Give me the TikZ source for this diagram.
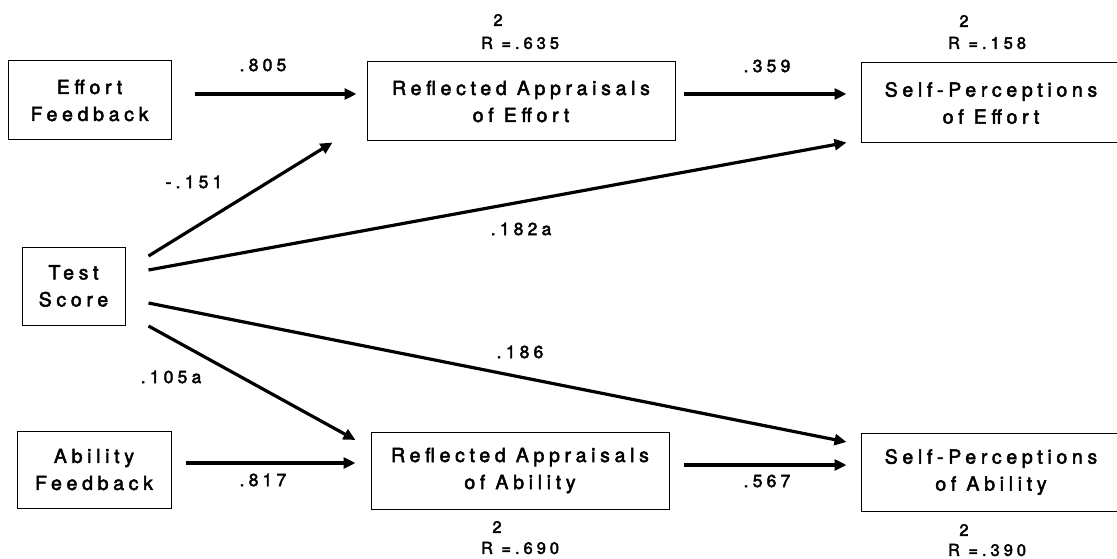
\documentclass[tikz,border=0pt]{standalone}
\usepackage{fontspec}
\setmainfont{TeX Gyre Heros}[LetterSpace=24,FakeBold=2.5]
\usetikzlibrary{arrows.meta,calc}

\tikzset{
  box/.style={draw, line width=1pt, inner sep=0pt, align=center,
    font=\fontsize{19.5}{27}\selectfont},
  arr/.style={line width=3.2pt, -{Triangle[length=12pt,width=11pt]}},
  coef/.style={inner sep=0pt, font=\fontsize{17.5}{18}\selectfont},
  rsq/.style={inner sep=0pt, font=\fontsize{16.5}{17}\selectfont},
}

\begin{document}
\begin{tikzpicture}[x=1pt,y=-1pt]
\useasboundingbox (0,0) rectangle (1117,559);

% variables
\node[box, minimum width=163pt, minimum height=79pt] (ef)  at (89.5,100.5) {Effort\\Feedback};
\node[box, minimum width=308pt, minimum height=79pt] (rae) at (521,101.5) {Reflected Appraisals\\of Effort};
\node[box, minimum width=260pt, minimum height=80pt] (spe) at (991,103) {Self-Perceptions\\of Effort};
\node[box, minimum width=103pt, minimum height=78pt] (ts)  at (73.5,286) {Test\\Score};
\node[box, minimum width=154pt, minimum height=77pt] (af)  at (94,469.5) {Ability\\Feedback};
\node[box, minimum width=298pt, minimum height=77pt] (raa) at (520,470.5) {Reflected Appraisals\\of Ability};
\node[box, minimum width=260pt, minimum height=78pt] (spa) at (991,472) {Self-Perceptions\\of Ability};

% explained variance
\node[rsq] (raeExp) at (498,20) {2};
\node[rsq] (raeR)   at (520,43) {R =.635};
\node[rsq] (speExp) at (964,21) {2};
\node[rsq] (speR)   at (987,43) {R =.158};
\node[rsq] (raaExp) at (497,527) {2};
\node[rsq] (raaR)   at (520,548) {R =.690};
\node[rsq] (spaExp) at (964,530) {2};
\node[rsq] (spaR)   at (987,550) {R =.390};

% paths
\draw[arr] ($(ef.east)+(23,-6.5)$)  -- ($(rae.west)+(-10,-7.5)$);
\draw[arr] ($(rae.east)+(8,-7.5)$)  -- ($(spe.west)+(-14,-9)$);
\draw[arr] ($(ts.east)+(23,-30)$)   -- ($(rae.south west)+(-34,1)$);
\draw[arr] ($(ts.east)+(23,-16)$)   -- ($(spe.south west)+(-14,-1)$);
\draw[arr] ($(ts.east)+(23,17)$)    -- ($(spa.west)+(-14,-30)$);
\draw[arr] ($(ts.east)+(23,40)$)    -- ($(raa.west)+(-15,-30.5)$);
\draw[arr] ($(af.east)+(14,-6.5)$)  -- ($(raa.west)+(-15,-7.5)$);
\draw[arr] ($(raa.east)+(14,-5.5)$) -- ($(spa.west)+(-14,-7)$);

% path coefficients
\node[coef] (c1) at (263,65)  {.805};
\node[coef] (c2) at (767,66)  {.359};
\node[coef] (c3) at (194,182) {-.151};
\node[coef] (c4) at (521,229) {.182a};
\node[coef] (c5) at (520,352) {.186};
\node[coef] (c6) at (171,377) {.105a};
\node[coef] (c7) at (263,480) {.817};
\node[coef] (c8) at (767,481) {.567};
\end{tikzpicture}
\end{document}
